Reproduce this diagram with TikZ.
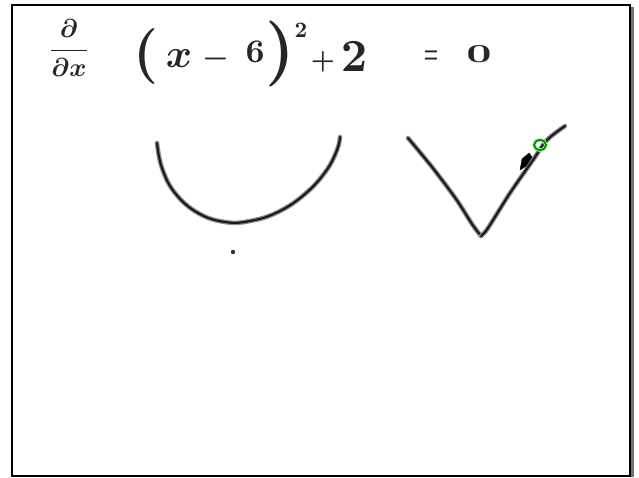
\documentclass[tikz,border=0pt]{standalone}
\usepackage{graphicx}
\newcommand{\gl}[2]{\scalebox{#1}{\boldmath$\displaystyle #2$}}
\newcommand{\glhv}[3]{\scalebox{#1}[#2]{\boldmath$\displaystyle #3$}}
\begin{document}
\begin{tikzpicture}[x=1pt,y=-1pt,
  ink/.style={line width=2.1pt, draw=black!90, line cap=round, line join=round,
    preaction={draw=black!45, line width=4.6pt, line cap=round, line join=round}},
  glyph/.style={inner sep=0pt, outer sep=0pt, text=black!85},
]
\useasboundingbox (0,0) rectangle (639,477);
% frame
\fill[black!55] (631,7) rectangle (634,477);
\draw[line width=2pt] (12,5) rectangle (630,476);
% written expression
\node[glyph] (frac) at (69,48) {\gl{2.6}{\frac{\partial}{\partial x}}};
\node[glyph] (lp) at (146,56) {\gl{5.6}{(}};
\node[glyph] (vx) at (179,59) {\gl{4.0}{x}};
\node[glyph] (mi) at (216,59) {\gl{3.0}{-}};
\node[glyph] (six) at (255,52) {\gl{3.3}{6}};
\node[glyph] (rp) at (280,54) {\gl{6.6}{)}};
\node[glyph] (sq) at (301,30) {\gl{2.2}{2}};
\node[glyph] (pl) at (323,62) {\gl{2.7}{+}};
\node[glyph] (two) at (354,57) {\gl{4.6}{2}};
\node[glyph] (eq) at (431,57) {\glhv{1.6}{3.2}{=}};
\node[glyph] (zero) at (479,54) {\glhv{4.4}{2.6}{0}};
% parabola sketch
\draw[ink] plot[smooth, tension=0.7] coordinates {(157,143) (162,168) (175,193) (198,213) (225,222) (250,221) (278,212) (305,194) (326,171) (337,150) (340,137)};
\fill[black!80] (233,252) circle (2.2);
% absolute value sketch
\draw[ink] plot[smooth, tension=0.5] coordinates {(408,138) (432,167) (456,199) (472,224) (481,236)};
\draw[ink] plot[smooth, tension=0.5] coordinates {(481,236) (488,228) (510,193) (533,160) (547,140) (565,126)};
% pen cursor
\filldraw[black, line join=round] (520,170) -- (522,159) -- (529,153) -- (532,157) -- (526,166) -- cycle;
\draw[green!55!black, line width=1.8pt, preaction={draw=green!40, line width=3.5pt}] (540,145) ellipse (6 and 5);
\end{tikzpicture}
\end{document}
